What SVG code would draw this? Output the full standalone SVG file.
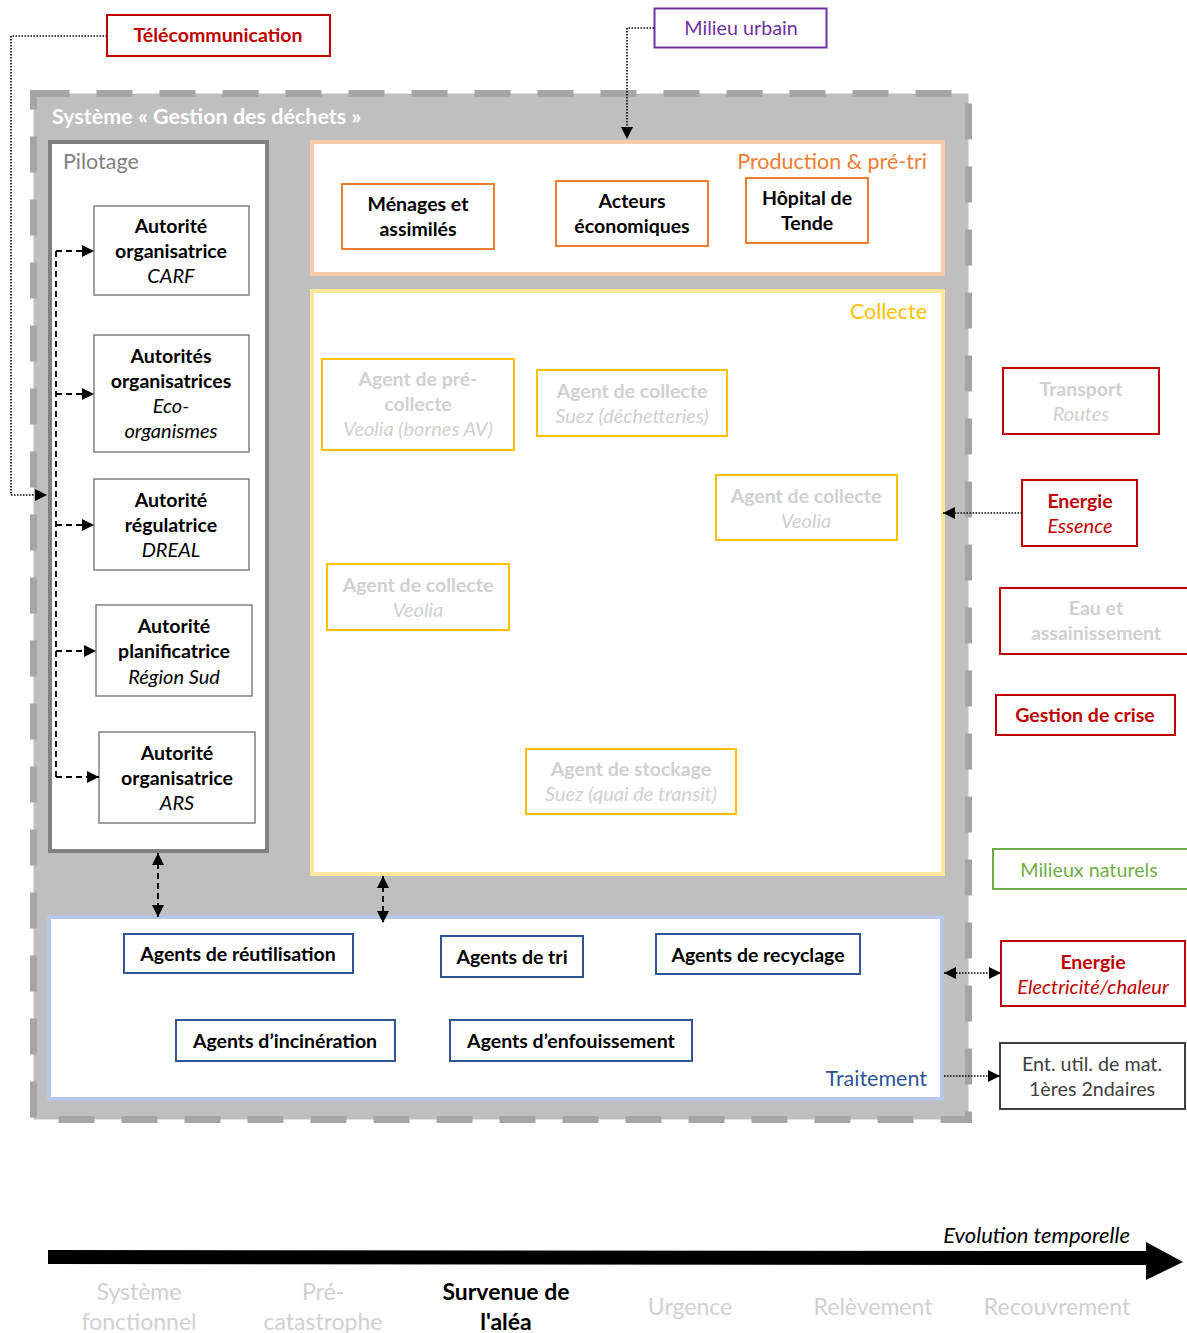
<svg xmlns="http://www.w3.org/2000/svg" width="1187" height="1333" viewBox="0 0 1187 1333">
<style>
text{font-family:Lato,"Liberation Sans",sans-serif;text-anchor:middle}
.b{font-weight:bold;font-size:19.5px;fill:#000}
.i{font-style:italic;font-size:20px;fill:#000}
.n{font-size:19.7px}
.sec{text-anchor:end;font-size:21.5px}
.auth{fill:#fff;stroke:#808080;stroke-width:1.5}
.prod{fill:#fff;stroke:#ed7d31;stroke-width:2}
.col{fill:#fff;stroke:#ffc000;stroke-width:2}
.tr{fill:#fff;stroke:#2f5597;stroke-width:2}
.red{fill:#fff;stroke:#c00000;stroke-width:2}
.ghost{fill:#d0d0d0}
.dot{fill:none;stroke:#000;stroke-width:1.6;stroke-dasharray:1.5 1.5}
.dash{fill:none;stroke:#000;stroke-width:1.8;stroke-dasharray:6 4}
.tl{font-size:23px;fill:#d0d0d0}
</style>
<defs>
<marker id="ah" viewBox="0 0 10 10" refX="10" refY="5" markerWidth="12" markerHeight="12" markerUnits="userSpaceOnUse" orient="auto-start-reverse"><path d="M0,0 L10,5 L0,10 z" fill="#000"/></marker>
</defs>

<g id="systeme">
<rect x="33.5" y="93.5" width="935" height="1026" fill="#bfbfbf"/>
<rect x="33.5" y="93.5" width="935" height="1026" fill="none" stroke="#a5a5a5" stroke-width="7" stroke-dasharray="36 27"/>
<text x="52" y="124" style="text-anchor:start;font-weight:bold;font-size:21.5px;fill:#fff">Système « Gestion des déchets »</text>
</g>

<g id="pilotage">
<rect x="50" y="142" width="217" height="709" fill="#fff" stroke="#808080" stroke-width="4"/>
<text x="63" y="169" style="text-anchor:start;font-size:21.5px;fill:#7f7f7f">Pilotage</text>
</g>

<g id="auth-carf">
<rect class="auth" x="94" y="206" width="155" height="89"/>
<text class="b" x="171" y="233">Autorité</text><text class="b" x="171" y="258">organisatrice</text><text class="i" x="171" y="283">CARF</text>
</g>
<g id="auth-eco">
<rect class="auth" x="94" y="335" width="155" height="117"/>
<text class="b" x="171" y="363">Autorités</text><text class="b" x="171" y="388">organisatrices</text><text class="i" x="171" y="413">Eco-</text><text class="i" x="171" y="438">organismes</text>
</g>
<g id="auth-dreal">
<rect class="auth" x="94" y="479" width="155" height="91"/>
<text class="b" x="171" y="507">Autorité</text><text class="b" x="171" y="532">régulatrice</text><text class="i" x="171" y="557">DREAL</text>
</g>
<g id="auth-region">
<rect class="auth" x="96" y="605" width="156" height="91"/>
<text class="b" x="174" y="633">Autorité</text><text class="b" x="174" y="658">planificatrice</text><text class="i" x="174" y="684">Région Sud</text>
</g>
<g id="auth-ars">
<rect class="auth" x="99" y="732" width="156" height="91"/>
<text class="b" x="177" y="760">Autorité</text><text class="b" x="177" y="785">organisatrice</text><text class="i" x="177" y="810">ARS</text>
</g>

<g id="production">
<rect x="312" y="142" width="631" height="132" fill="#fff" stroke="#f8cbad" stroke-width="4"/>
<text class="sec" x="927" y="169" style="fill:#ed7d31">Production &amp; pré-tri</text>
</g>
<g id="menages">
<rect class="prod" x="342" y="184" width="152" height="65"/>
<text class="b" x="418" y="211">Ménages et</text><text class="b" x="418" y="236">assimilés</text>
</g>
<g id="acteurs">
<rect class="prod" x="556" y="181" width="152" height="65"/>
<text class="b" x="632" y="208">Acteurs</text><text class="b" x="632" y="233">économiques</text>
</g>
<g id="hopital">
<rect class="prod" x="746" y="178" width="122" height="65"/>
<text class="b" x="807" y="205">Hôpital de</text><text class="b" x="807" y="230">Tende</text>
</g>

<g id="collecte">
<rect x="312" y="291" width="631" height="583" fill="#fff" stroke="#ffe699" stroke-width="4"/>
<text class="sec" x="927" y="319" style="fill:#ffc000">Collecte</text>
</g>
<g id="precollecte">
<rect class="col" x="322" y="359" width="192" height="91"/>
<text class="b ghost" x="418" y="386">Agent de pré-</text><text class="b ghost" x="418" y="411">collecte</text><text class="i ghost" x="418" y="436">Veolia (bornes AV)</text>
</g>
<g id="collecte-suez">
<rect class="col" x="537" y="370" width="190" height="66"/>
<text class="b ghost" x="632" y="398">Agent de collecte</text><text class="i ghost" x="632" y="423">Suez (déchetteries)</text>
</g>
<g id="collecte-veolia1">
<rect class="col" x="716" y="475" width="181" height="65"/>
<text class="b ghost" x="806" y="503">Agent de collecte</text><text class="i ghost" x="806" y="528">Veolia</text>
</g>
<g id="collecte-veolia2">
<rect class="col" x="327" y="564" width="182" height="66"/>
<text class="b ghost" x="418" y="592">Agent de collecte</text><text class="i ghost" x="418" y="617">Veolia</text>
</g>
<g id="stockage">
<rect class="col" x="526" y="749" width="210" height="65"/>
<text class="b ghost" x="631" y="776">Agent de stockage</text><text class="i ghost" x="631" y="801">Suez (quai de transit)</text>
</g>

<g id="traitement">
<rect x="49" y="917" width="893" height="182" fill="#fff" stroke="#b4c7e7" stroke-width="4"/>
<text class="sec" x="927" y="1086" style="fill:#2f5597">Traitement</text>
</g>
<g id="reutilisation">
<rect class="tr" x="124" y="934" width="229" height="39"/>
<text class="b" x="238" y="961">Agents de réutilisation</text>
</g>
<g id="tri">
<rect class="tr" x="441" y="936" width="142" height="41"/>
<text class="b" x="512" y="964">Agents de tri</text>
</g>
<g id="recyclage">
<rect class="tr" x="656" y="934" width="204" height="40"/>
<text class="b" x="758" y="962">Agents de recyclage</text>
</g>
<g id="incineration">
<rect class="tr" x="176" y="1020" width="219" height="41"/>
<text class="b" x="285" y="1048">Agents d’incinération</text>
</g>
<g id="enfouissement">
<rect class="tr" x="450" y="1020" width="242" height="41"/>
<text class="b" x="571" y="1048">Agents d’enfouissement</text>
</g>

<g id="telecom">
<rect class="red" x="107" y="15" width="223" height="41"/>
<text class="b" x="218" y="42" style="fill:#c00000">Télécommunication</text>
</g>
<g id="milieu-urbain">
<rect x="654.5" y="8.5" width="172" height="39" fill="#fff" stroke="#7030a0" stroke-width="2"/>
<text class="n" x="741" y="35" style="fill:#7030a0">Milieu urbain</text>
</g>
<g id="transport">
<rect class="red" x="1003" y="368" width="156" height="66"/>
<text class="b ghost" x="1081" y="396">Transport</text><text class="i ghost" x="1081" y="421">Routes</text>
</g>
<g id="energie-essence">
<rect class="red" x="1022" y="480" width="115" height="66"/>
<text class="b" x="1080" y="508" style="fill:#c00000">Energie</text><text class="i" x="1080" y="533" style="fill:#c00000">Essence</text>
</g>
<g id="eau">
<rect class="red" x="1000" y="588" width="192" height="66"/>
<text class="b ghost" x="1096" y="615">Eau et</text><text class="b ghost" x="1096" y="640">assainissement</text>
</g>
<g id="gestion-crise">
<rect class="red" x="996" y="695" width="179" height="40"/>
<text class="b" x="1085" y="722" style="fill:#c00000">Gestion de crise</text>
</g>
<g id="milieux-naturels">
<rect x="993" y="849" width="195" height="40" fill="#fff" stroke="#70ad47" stroke-width="2"/>
<text class="n" x="1089" y="877" style="fill:#70ad47">Milieux naturels</text>
</g>
<g id="energie-elec">
<rect class="red" x="1001" y="941" width="184" height="65"/>
<text class="b" x="1093" y="969" style="fill:#c00000">Energie</text><text class="i" x="1093" y="994" style="fill:#c00000">Electricité/chaleur</text>
</g>
<g id="ent-util">
<rect x="1000" y="1043" width="185" height="66" fill="#fff" stroke="#404040" stroke-width="2"/>
<text class="n" x="1092" y="1071" style="fill:#404040">Ent. util. de mat.</text><text class="n" x="1092" y="1096" style="fill:#404040">1ères 2ndaires</text>
</g>

<g id="connectors">
<polyline class="dot" points="107,36 11,36 11,495 47,495" marker-end="url(#ah)"/>
<polyline class="dot" points="654,28 627,28 627,139" marker-end="url(#ah)"/>
<line class="dot" x1="1022" y1="513" x2="943" y2="513" marker-end="url(#ah)"/>
<line class="dot" x1="944" y1="973" x2="1001" y2="973" marker-start="url(#ah)" marker-end="url(#ah)"/>
<line class="dot" x1="944" y1="1076" x2="1000" y2="1076" marker-end="url(#ah)"/>
<line class="dash" x1="56" y1="251" x2="56" y2="777"/>
<line class="dash" x1="56" y1="251" x2="94" y2="251" marker-end="url(#ah)"/>
<line class="dash" x1="56" y1="394" x2="94" y2="394" marker-end="url(#ah)"/>
<line class="dash" x1="56" y1="525" x2="94" y2="525" marker-end="url(#ah)"/>
<line class="dash" x1="56" y1="651" x2="96" y2="651" marker-end="url(#ah)"/>
<line class="dash" x1="56" y1="777" x2="99" y2="777" marker-end="url(#ah)"/>
<line class="dash" x1="158" y1="853" x2="158" y2="917" marker-start="url(#ah)" marker-end="url(#ah)"/>
<line class="dash" x1="383" y1="876" x2="383" y2="923" marker-start="url(#ah)" marker-end="url(#ah)"/>
</g>

<g id="timeline">
<polygon points="48,1250 1146,1251 1146,1242 1183,1262 1146,1280 1146,1265 48,1264" fill="#000"/>
<text x="1130" y="1243" style="text-anchor:end;font-style:italic;font-size:22px;fill:#000">Evolution temporelle</text>
<text class="tl" x="139" y="1300">Système</text><text class="tl" x="139" y="1330">fonctionnel</text>
<text class="tl" x="323" y="1300">Pré-</text><text class="tl" x="323" y="1330">catastrophe</text>
<text class="tl" x="506" y="1300" style="font-weight:bold;fill:#000">Survenue de</text><text class="tl" x="506" y="1330" style="font-weight:bold;fill:#000">l'aléa</text>
<text class="tl" x="690" y="1315">Urgence</text>
<text class="tl" x="873" y="1315">Relèvement</text>
<text class="tl" x="1057" y="1315">Recouvrement</text>
</g>
</svg>
